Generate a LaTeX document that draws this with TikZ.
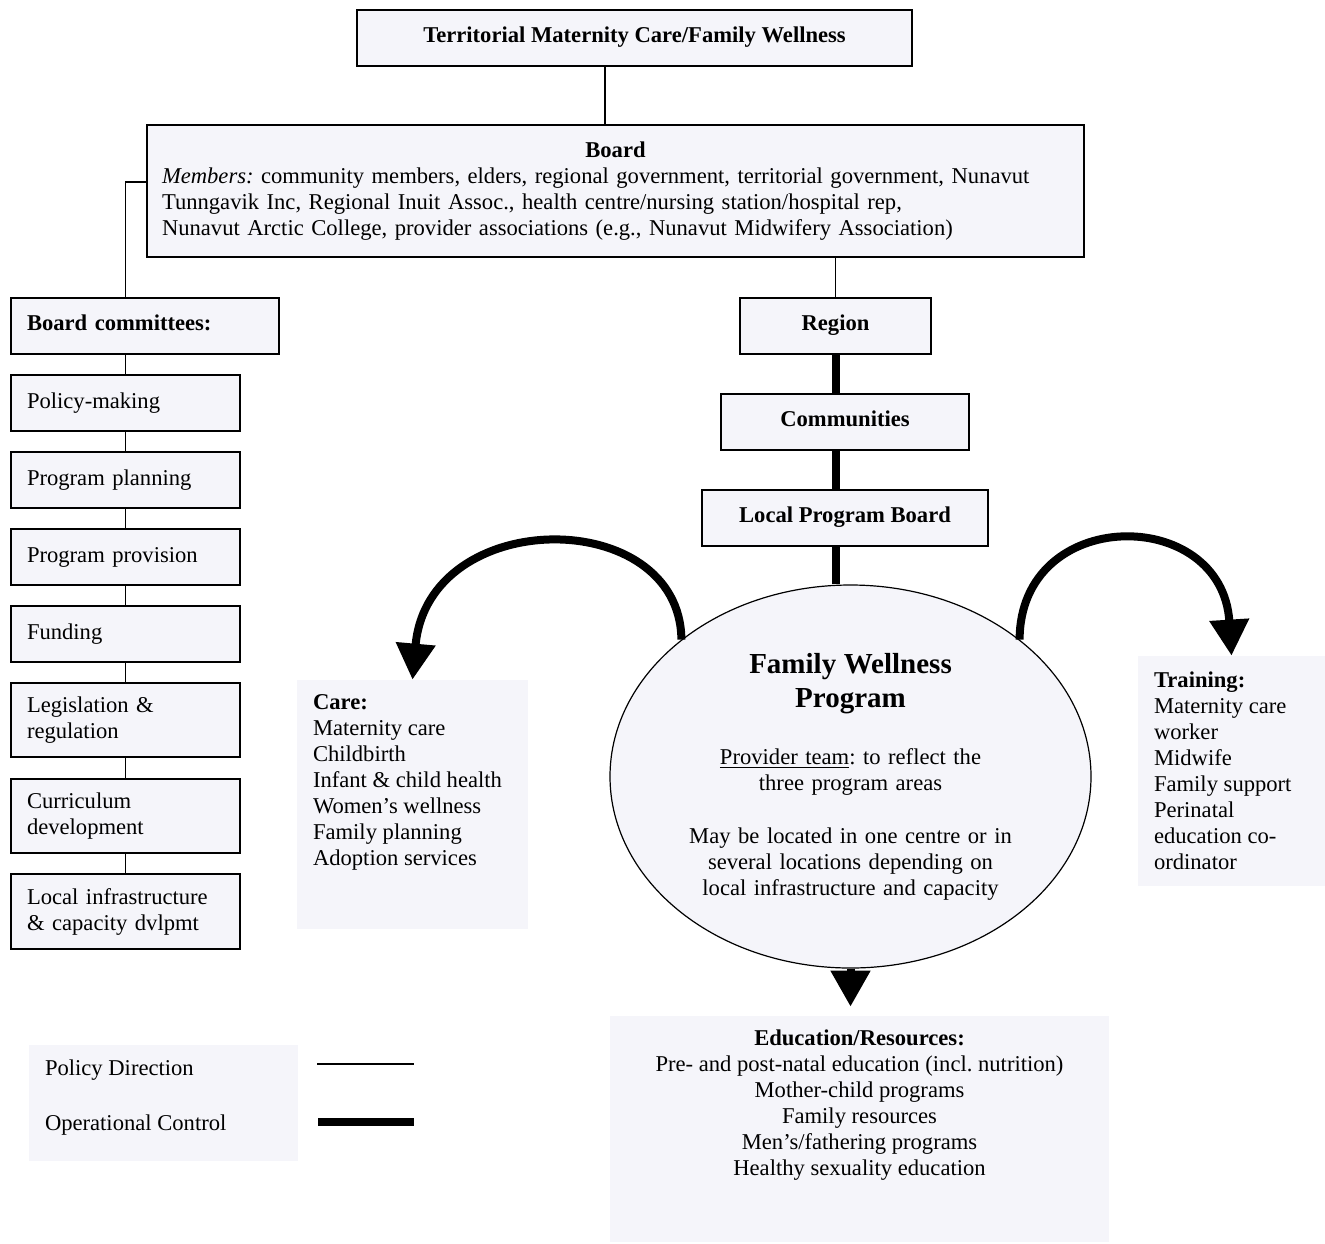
\documentclass[tikz,border=0pt]{standalone}
\usepackage{fontspec}
\setmainfont{Liberation Serif}
\usepackage{tikz}
\usetikzlibrary{positioning,arrows.meta,shapes.geometric}
\definecolor{boxfill}{RGB}{245,245,250}
\tikzset{
orgbox/.style={draw, line width=1pt, fill=boxfill, inner sep=0pt},
headbox/.style={orgbox, minimum height=28pt, text height=0.7em, text depth=0.25em},
combox/.style={orgbox, minimum width=114.5pt, minimum height=28pt, text width=98.5pt, align=left},
listbox/.style={fill=boxfill, inner xsep=8pt, inner ysep=7.5pt},
policy/.style={line width=0.8pt},
operational/.style={line width=4pt},
bigarrow/.style={operational, -{Triangle[width=19pt,length=18pt]}}
}

\begin{document}
\begin{tikzpicture}[x=0.5pt, y=-0.5pt, font=\fontsize{11.3pt}{13pt}\selectfont\frenchspacing, node distance=9.5pt]
  \useasboundingbox (0,0) rectangle (1325,1243);

  \node[headbox, minimum width=277.5pt] (terr) at (634.5,38) {\textbf{Territorial Maternity Care/Family Wellness}};
  \node[orgbox, minimum width=468.5pt, minimum height=66pt, text width=453.5pt, align=left] (board) at (615.5,191)
    {{\centering\textbf{Board}\par}\emph{Members:} community members, elders, regional government, territorial government, Nunavut\\
     Tunngavik Inc, Regional Inuit Assoc., health centre/nursing station/hospital rep,\\
     Nunavut Arctic College, provider associations (e.g., Nunavut Midwifery Association)};

  % committees
  \node[headbox, minimum width=134pt, text width=118pt, align=left] (bcom) at (145,326) {\textbf{Board committees:}};
  \node[combox] (polmak) at (125.5,403) {Policy-making};
  \node[combox, below=of polmak] (progplan) {Program planning};
  \node[combox, below=of progplan] (progprov) {Program provision};
  \node[combox, below=of progprov] (funding) {Funding};
  \node[combox, below=of funding, minimum height=37pt] (legis) {Legislation \&\\regulation};
  \node[combox, below=10pt of legis, minimum height=37pt] (curric) {Curriculum\\development};
  \node[combox, below=of curric, minimum height=37.5pt] (infra) {Local infrastructure\\\& capacity dvlpmt};

  % operational side
  \node[headbox, minimum width=95.5pt] (region) at (835.5,325.5) {\textbf{Region}};
  \node[headbox, minimum width=124pt] (comm) at (845,421.5) {\textbf{Communities}};
  \node[headbox, minimum width=143pt] (lpb) at (845,517.5) {\textbf{Local Program Board}};

  \node[ellipse, draw, line width=0.6pt, fill=boxfill, minimum width=240.5pt, minimum height=191.5pt,
        inner sep=0pt, text width=168pt, align=center] (wellness) at (850.5,776.5)
    {{\fontsize{14.5pt}{17pt}\selectfont\bfseries Family Wellness\\Program\par}\vspace{15.5pt}
     \underline{Provider team}: to reflect the\\three program areas\par\vspace{13.5pt}
     May be located in one centre or in\\several locations depending on\\local infrastructure and capacity};

  \node[listbox] (care) at (412.5,804.5)
    {\parbox[c][109.5pt][t]{99.5pt}{\raggedright\textbf{Care:}\\Maternity care\\Childbirth\\Infant \& child health\\Women’s wellness\\Family planning\\Adoption services}};
  \node[listbox, inner ysep=8pt] (training) at (1231.5,771)
    {\parbox[c][99pt][t]{77.5pt}{\raggedright\textbf{Training:}\\Maternity care\\worker\\Midwife\\Family support\\Perinatal\\education co-\\ordinator}};
  \node[listbox, inner ysep=7pt] (edu) at (859.5,1129)
    {\parbox[c][99pt][t]{233.5pt}{\centering\textbf{Education/Resources:}\\Pre- and post-natal education (incl. nutrition)\\Mother-child programs\\Family resources\\Men’s/fathering programs\\Healthy sexuality education}};

  % legend
  \node[listbox] (legend) at (163.5,1103)
    {\parbox[c][43pt][t]{118.5pt}{\raggedright Policy Direction\\[14.5pt]Operational Control}};
  \coordinate (thinA) at (317,1064);
  \coordinate (thinB) at (414,1064);
  \coordinate (thickA) at (318,1122);
  \coordinate (thickB) at (414,1122);
  \draw[policy] (thinA) -- (thinB);
  \draw[operational] (thickA) -- (thickB);

  % policy direction
  \draw[policy] ([xshift=-14.75pt]terr.south) -- ([xshift=-14.75pt]terr.south |- board.north);
  \draw[policy] ([yshift=4.5pt]board.west) -| (polmak.north |- bcom.north);
  \draw[policy] (polmak.north |- bcom.south) -- (polmak.north);
  \foreach \a/\b in {polmak/progplan,progplan/progprov,progprov/funding,funding/legis,legis/curric,curric/infra}
    \draw[policy] (\a) -- (\b);
  \draw[policy] (board.south -| region.north) -- (region.north);

  % operational control
  \draw[operational] (region.south) -- (region.south |- comm.north);
  \draw[operational] (region.south |- comm.south) -- (region.south |- lpb.north);
  \draw[operational] (region.south |- lpb.south) -- (region.south |- wellness.north);
  \draw[bigarrow] (wellness.141) .. controls (680,505) and (428,505) .. (care.north);
  \draw[bigarrow] (wellness.39) .. controls (1020,505) and (1222,505) .. (training.north);
  \draw[bigarrow, shorten >=4.5pt] (wellness.south) -- (wellness.south |- edu.north);

\end{tikzpicture}
\end{document}
